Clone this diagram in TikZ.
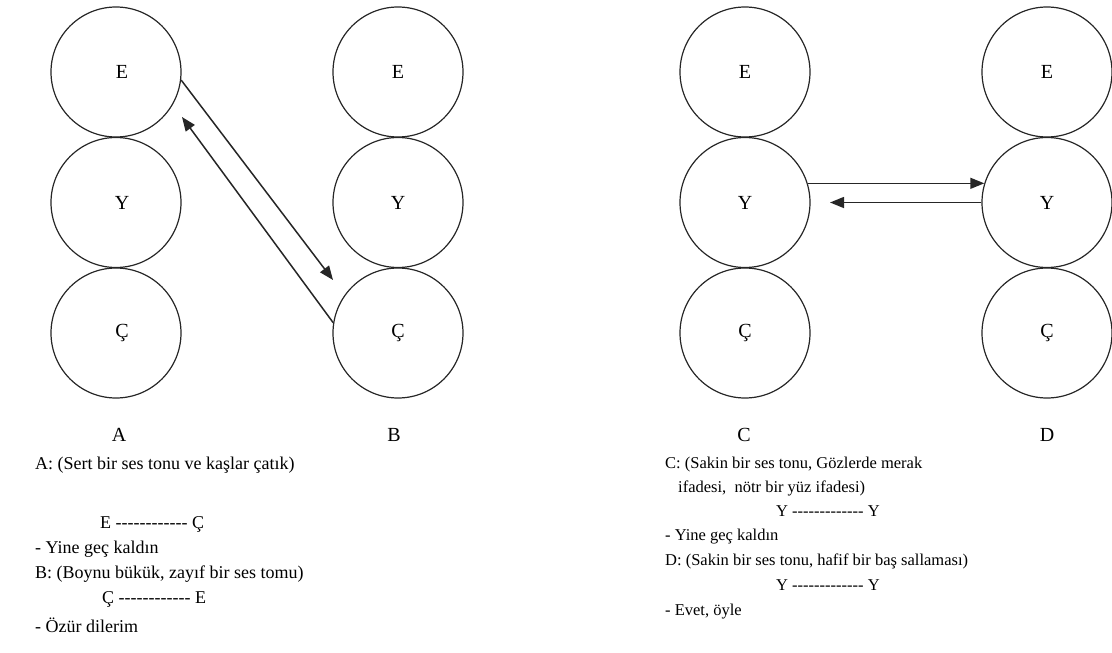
\documentclass[tikz,border=0pt]{standalone}
\usepackage{fontspec}
\setmainfont{Liberation Serif}
\usetikzlibrary{arrows.meta}
\newcommand{\hz}{-\kern0pt}
\newcommand{\hrow}{\hz\hz\hz\hz\hz\hz\hz\hz\hz\hz\hz\hz}
\begin{document}
\begin{tikzpicture}[x=1pt,y=-1pt,
  bubble/.style={circle,draw=black!85,line width=1.2pt,minimum size=130pt,inner sep=0pt,font=\fontsize{20}{24}\selectfont},
  txtL/.style={anchor=base west,inner sep=0pt,font=\fontsize{18}{22}\selectfont},
  txtR/.style={anchor=base west,inner sep=0pt,font=\fontsize{16.5}{20}\selectfont},
  lbl/.style={anchor=base,inner sep=0pt,font=\fontsize{20}{24}\selectfont},
  conn/.style={line width=1.5pt,draw=black!85,-{Triangle[length=14pt,width=11pt]}}]
\useasboundingbox (0,0) rectangle (1112,653);
% circles
\foreach \c/\x/\s in {A/116/12,B/398/0,C/745/0,D/1047/0}{
  \node[bubble] (\c E) at (\x,72) {\makebox[0pt]{\hspace*{\s pt}E}};
  \node[bubble] (\c Y) at (\x,202.5) {\makebox[0pt]{\hspace*{\s pt}Y}};
  \node[bubble] (\c C) at (\x,333) {\makebox[0pt]{\hspace*{\s pt}Ç}};
}
% column labels
\node[lbl] (labA) at (119,441) {A};
\node[lbl] (labB) at (394,441) {B};
\node[lbl] (labC) at (744,441) {C};
\node[lbl] (labD) at (1047,441) {D};
% connectors
\coordinate (tip1) at (333,280);
\coordinate (tip2) at (182,117);
\coordinate (tip4) at (830,202.5);
\draw[conn] (AE.-7) -- (tip1);
\draw[conn] (BC.171) -- (tip2);
\draw[conn] (CY.17) -- (DY.163);
\draw[conn] (DY.180) -- (tip4);
% left text
\node[txtL] (l1) at (35,469) {A: (Sert bir ses tonu ve kaşlar çatık)};
\node[txtL] (l2) at (100,528) {E \hrow{} Ç};
\node[txtL] (l3) at (35,553) {- Yine geç kaldın};
\node[txtL] (l4) at (35,578) {B: (Boynu bükük, zayıf bir ses tomu)};
\node[txtL] (l5) at (102,603) {Ç \hrow{} E};
\node[txtL] (l6) at (35,632) {- Özür dilerim};
% right text
\node[txtR] (r1) at (665,468.5) {C: (Sakin bir ses tonu, Gözlerde merak};
\node[txtR] (r2) at (678,492.5) {ifadesi,\ \ nötr bir yüz ifadesi)};
\node[txtR] (r3) at (776,516) {Y \hrow\hz{} Y};
\node[txtR] (r4) at (665,540.5) {- Yine geç kaldın};
\node[txtR] (r5) at (665,565.5) {D: (Sakin bir ses tonu, hafif bir baş sallaması)};
\node[txtR] (r6) at (776,590.5) {Y \hrow\hz{} Y};
\node[txtR] (r7) at (665,615.5) {- Evet, öyle};
\end{tikzpicture}
\end{document}
